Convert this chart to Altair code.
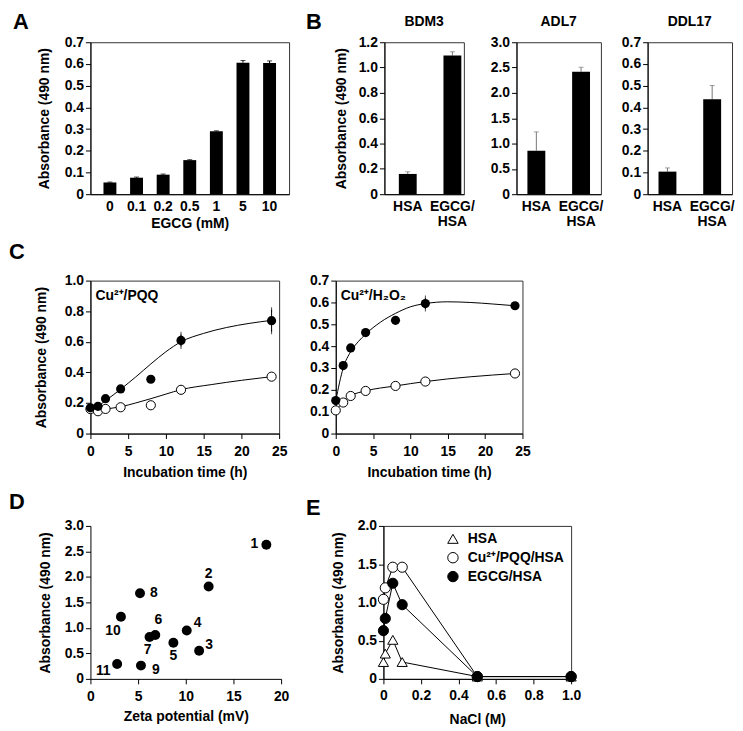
import altair as alt
import pandas as pd

FONT = "Liberation Sans"
YTITLE = "Absorbance (490 nm)"

# ---------------- Panel A ----------------
egcg_mm = ["0", "0.1", "0.2", "0.5", "1", "5", "10"]
egcg_abs = [0.054, 0.076, 0.090, 0.157, 0.290, 0.606, 0.604]
egcg_err = [0.002, 0.003, 0.003, 0.002, 0.002, 0.010, 0.010]
a_yticks = [0, 0.1, 0.2, 0.3, 0.4, 0.5, 0.6, 0.7]

# ---------------- Panel B ----------------
b_groups = ["HSA", "EGCG/HSA"]
bdm3_abs = [0.160, 1.095]
bdm3_err = [0.017, 0.030]
adl7_abs = [0.86, 2.42]
adl7_err = [0.37, 0.085]
ddl17_abs = [0.104, 0.437]
ddl17_err = [0.017, 0.064]
bdm3_yticks = [0, 0.2, 0.4, 0.6, 0.8, 1.0, 1.2]
adl7_yticks = [0, 0.5, 1.0, 1.5, 2.0, 2.5, 3.0]
ddl17_yticks = [0, 0.1, 0.2, 0.3, 0.4, 0.5, 0.6, 0.7]

# ---------------- Panel C ----------------
time_h = [0, 1, 2, 4, 8, 12, 24]
pqq_egcg = [0.168, 0.178, 0.228, 0.292, 0.355, 0.609, 0.738]
pqq_egcg_err = [0, 0, 0, 0, 0, 0.040, 0.072]
pqq_hsa = [0.160, 0.146, 0.161, 0.172, 0.185, 0.286, 0.372]
pqq_egcg_fit_t = [0, 1, 2, 4, 6, 8, 10, 12, 15, 18, 21, 24]
pqq_egcg_fit = [0.165, 0.180, 0.215, 0.290, 0.370, 0.455, 0.535, 0.600, 0.655, 0.693, 0.720, 0.740]
pqq_hsa_fit_t = [0, 1, 2, 4, 6, 8, 10, 12, 16, 20, 24]
pqq_hsa_fit = [0.160, 0.150, 0.160, 0.175, 0.200, 0.228, 0.258, 0.287, 0.320, 0.348, 0.372]

h2o2_egcg = [0.151, 0.311, 0.392, 0.462, 0.518, 0.595, 0.585]
h2o2_egcg_err = [0, 0, 0, 0, 0, 0.025, 0]
h2o2_hsa = [0.106, 0.142, 0.172, 0.195, 0.218, 0.238, 0.275]
h2o2_egcg_fit_t = [0, 1, 2, 3, 4, 6, 8, 10, 12, 15, 18, 21, 24]
h2o2_egcg_fit = [0.150, 0.300, 0.375, 0.420, 0.455, 0.510, 0.550, 0.580, 0.595, 0.603, 0.600, 0.593, 0.585]

c_xticks = [0, 5, 10, 15, 20, 25]
pqq_yticks = [0, 0.2, 0.4, 0.6, 0.8, 1.0]
h2o2_yticks = [0, 0.1, 0.2, 0.3, 0.4, 0.5, 0.6, 0.7]

# ---------------- Panel D ----------------
d_labels = ["1", "2", "3", "4", "5", "6", "7", "8", "9", "10", "11"]
zeta_mv = [18.45, 12.4, 11.4, 10.1, 8.7, 6.8, 6.2, 5.2, 5.3, 3.2, 2.8]
zeta_abs = [2.63, 1.81, 0.55, 0.95, 0.71, 0.86, 0.82, 1.68, 0.26, 1.22, 0.29]
d_xticks = [0, 5, 10, 15, 20]
d_yticks = [0, 0.5, 1.0, 1.5, 2.0, 2.5, 3.0]

# ---------------- Panel E ----------------
e_series = ["HSA", "Cu\u00b2\u207a/PQQ/HSA", "EGCG/HSA"]
e_hsa_nacl = [0, 0.01, 0.05, 0.1, 0.5, 1.0]
e_hsa_abs = [0.22, 0.33, 0.51, 0.22, 0.03, 0.03]
e_cu_nacl = [0, 0.01, 0.05, 0.1, 0.5, 1.0]
e_cu_abs = [1.04, 1.19, 1.46, 1.46, 0.03, 0.03]
e_egcg_nacl = [0, 0.01, 0.05, 0.1, 0.5, 1.0]
e_egcg_abs = [0.63, 0.79, 1.25, 0.97, 0.03, 0.03]
e_xticks = [0, 0.2, 0.4, 0.6, 0.8, 1.0]
e_yticks = [0, 0.5, 1.0, 1.5, 2.0]
e_shapes = ["triangle-up", "circle", "circle"]
e_fills = ["white", "white", "black"]

ZERO_EXPR = "datum.value == 0 ? '0' : format(datum.value, '.1f')"


def yaxis(values, title, title_padding=10):
    return alt.Axis(values=values, title=title, labelExpr=ZERO_EXPR, tickSize=5,
                    labelPadding=2, titlePadding=title_padding, labelFlush=False,
                    labelOverlap=False)


def letter(ch, dx, dy):
    return alt.Chart(pd.DataFrame({"t": [ch]})).mark_text(
        font=FONT, fontSize=22, fontWeight="bold", align="left", baseline="alphabetic", color="black"
    ).encode(text="t:N", x=alt.value(dx), y=alt.value(dy))


def spacer(w, h=1, mark=None):
    sp = alt.Chart(pd.DataFrame({"s": [0]})).mark_point(opacity=0).encode(
        x=alt.value(0), y=alt.value(0))
    if mark is not None:
        sp = alt.layer(sp, mark)
    return sp.properties(width=w, height=h, view=alt.ViewBackground(stroke="transparent"))


def bar_panel(cats, vals, errs, ymax, yticks, ytitle, xtitle, pi, po, align_, err_color,
              label_expr=None, title_padding=10):
    df = pd.DataFrame({"cat": cats, "abs": vals, "err": errs})
    base = alt.Chart(df)
    xax = dict(title=xtitle, labelAngle=0, ticks=False, tickSize=0, labelPadding=5,
               titlePadding=4, labelLineHeight=16, labelOverlap=False)
    if label_expr:
        xax["labelExpr"] = label_expr
    x = alt.X("cat:N", sort=cats, scale=alt.Scale(paddingInner=pi, paddingOuter=po, align=align_),
              axis=alt.Axis(**xax))
    yscale = alt.Scale(domain=[0, ymax], nice=False)
    yax = yaxis(yticks, ytitle, title_padding)
    bars = base.mark_bar(color="black").encode(
        x=x, y=alt.Y("abs:Q", scale=yscale, axis=yax, title=ytitle))
    top = base.transform_calculate(top="datum.abs + datum.err")
    rule = top.mark_rule(color=err_color, strokeWidth=1).encode(
        x=x, y=alt.Y("abs:Q", scale=yscale, axis=yax, title=ytitle), y2="top:Q")
    cap = top.mark_tick(color=err_color, thickness=1, size=5).encode(
        x=x, y=alt.Y("top:Q", scale=yscale, axis=yax, title=ytitle))
    return rule, cap, bars


# ---- A ----
ra, ca, ba = bar_panel(egcg_mm, egcg_abs, egcg_err, 0.7, a_yticks, YTITLE, "EGCG (mM)",
                       0.515, 0.49, 0.5, "black", title_padding=13)
panel_a = alt.layer(ra, ca, ba, letter("A", -78, -13)).properties(width=200, height=153)

# ---- B ----
B_EXPR = "datum.label == 'EGCG/HSA' ? ['EGCG/', 'HSA'] : datum.label"


def b_title(t):
    return alt.TitleParams(t, font=FONT, fontSize=14, fontWeight="bold", offset=6,
                           color="black", frame="group")


r1, c1, b1 = bar_panel(b_groups, bdm3_abs, bdm3_err, 1.2, bdm3_yticks, YTITLE, None,
                       0.6, 0.19, 0.85, "#777777", B_EXPR, 10)
panel_bdm3 = alt.layer(r1, c1, b1).properties(width=80, height=153, title=b_title("BDM3"))
r2, c2, b2 = bar_panel(b_groups, adl7_abs, adl7_err, 3.0, adl7_yticks, None, None,
                       0.6, 0.244, 0.5, "#777777", B_EXPR)
panel_adl7 = alt.layer(r2, c2, b2).properties(width=85, height=153, title=b_title("ADL7"))
r3, c3, b3 = bar_panel(b_groups, ddl17_abs, ddl17_err, 0.7, ddl17_yticks, None, None,
                       0.6, 0.244, 0.5, "#777777", B_EXPR)
panel_ddl17 = alt.layer(r3, c3, b3).properties(width=85, height=153, title=b_title("DDL17"))


# ---- C ----
def time_panel(egcg, egcg_err, hsa, fit_t, fit_v, hfit_t, hfit_v, ymax, yticks, ytitle,
               label, width, extra=None):
    xs = alt.Scale(domain=[0, 25], nice=False)
    ys = alt.Scale(domain=[0, ymax], nice=False)
    xax = alt.Axis(values=c_xticks, title="Incubation time (h)", tickSize=5, labelPadding=6,
                   titlePadding=7, labelFlush=False, labelOverlap=False)
    yax = yaxis(yticks, ytitle, 16)
    X = lambda f: alt.X(f, scale=xs, axis=xax, title="Incubation time (h)")
    Y = lambda f: alt.Y(f, scale=ys, axis=yax, title=ytitle)
    pts = pd.DataFrame({"t": time_h, "egcg": egcg, "err": egcg_err, "hsa": hsa})
    fit = pd.DataFrame({"t": fit_t, "v": fit_v})
    hfit = pd.DataFrame({"t": hfit_t, "v": hfit_v})
    l1 = alt.Chart(fit).mark_line(color="black", strokeWidth=1, interpolate="monotone").encode(
        x=X("t:Q"), y=Y("v:Q"))
    l2 = alt.Chart(hfit).mark_line(color="black", strokeWidth=1, interpolate="monotone").encode(
        x=X("t:Q"), y=Y("v:Q"))
    eb = alt.Chart(pts).transform_filter("datum.err > 0").transform_calculate(
        lo="datum.egcg - datum.err", hi="datum.egcg + datum.err")
    er = eb.mark_rule(color="black", strokeWidth=1).encode(x=X("t:Q"), y=Y("lo:Q"), y2="hi:Q")
    ec1 = eb.mark_tick(color="black", thickness=1, size=5).encode(x=X("t:Q"), y=Y("lo:Q"))
    ec2 = eb.mark_tick(color="black", thickness=1, size=5).encode(x=X("t:Q"), y=Y("hi:Q"))
    op = alt.Chart(pts).mark_circle(size=85, fill="white", stroke="black", strokeWidth=1,
                                    opacity=1).encode(x=X("t:Q"), y=Y("hsa:Q"))
    fp = alt.Chart(pts).mark_circle(size=85, color="black", opacity=1).encode(
        x=X("t:Q"), y=Y("egcg:Q"))
    lab = alt.Chart(pd.DataFrame({"t": [label]})).mark_text(
        font=FONT, fontSize=14, fontWeight="bold", align="left", baseline="middle", color="black"
    ).encode(text="t:N", x=alt.value(5), y=alt.value(16))
    layers = [l1, l2, er, ec1, ec2, op, fp, lab]
    if extra is not None:
        layers.append(extra)
    return alt.layer(*layers).properties(width=width, height=154)


panel_c1 = time_panel(pqq_egcg, pqq_egcg_err, pqq_hsa, pqq_egcg_fit_t, pqq_egcg_fit,
                      pqq_hsa_fit_t, pqq_hsa_fit, 1.0, pqq_yticks, YTITLE,
                      "Cu\u00b2\u207a/PQQ", 190, letter("C", -82, -22))
panel_c2 = time_panel(h2o2_egcg, h2o2_egcg_err, h2o2_hsa, h2o2_egcg_fit_t, h2o2_egcg_fit,
                      time_h, h2o2_hsa, 0.7, h2o2_yticks, None,
                      "Cu\u00b2\u207a/H\u2082O\u2082", 188)

# ---- D ----
d_df = pd.DataFrame({"label": d_labels, "zeta": zeta_mv, "abs": zeta_abs})
dxs = alt.Scale(domain=[0, 20], nice=False)
dys = alt.Scale(domain=[0, 3.0], nice=False)
DX = alt.X("zeta:Q", scale=dxs, title="Zeta potential (mV)",
           axis=alt.Axis(values=d_xticks, title="Zeta potential (mV)", tickSize=5,
                         labelPadding=6, titlePadding=6, labelFlush=False, labelOverlap=False))
DY = alt.Y("abs:Q", scale=dys, title=YTITLE, axis=yaxis(d_yticks, YTITLE, 12))
d_pts = alt.Chart(d_df).mark_circle(size=100, color="black", opacity=1).encode(x=DX, y=DY)
label_offsets = {"1": (-12, -1), "2": (0, -13), "3": (10, -6), "4": (11, -7), "5": (0, 13),
                 "6": (3, -15), "7": (-2, 13), "8": (14, 0), "9": (15, 4), "10": (-8, 14),
                 "11": (-14, 7)}
d_layers = [d_pts]
for lab, (ox, oy) in label_offsets.items():
    d_layers.append(
        alt.Chart(d_df).transform_filter(alt.datum.label == lab).mark_text(
            font=FONT, fontSize=14, fontWeight="bold", dx=ox, dy=oy, color="black",
            baseline="middle", align="center").encode(x=DX, y=DY, text="label:N"))
d_layers.append(letter("D", -82, -17))
panel_d = alt.layer(*d_layers).properties(width=192, height=154,
                                          view=alt.ViewBackground(stroke="transparent"))

# ---- E ----
e_df = pd.concat([
    pd.DataFrame({"series": e_series[0], "nacl": e_hsa_nacl, "abs": e_hsa_abs}),
    pd.DataFrame({"series": e_series[1], "nacl": e_cu_nacl, "abs": e_cu_abs}),
    pd.DataFrame({"series": e_series[2], "nacl": e_egcg_nacl, "abs": e_egcg_abs}),
], ignore_index=True)
exs = alt.Scale(domain=[0, 1.0], nice=False)
eys = alt.Scale(domain=[0, 2.0], nice=False)
EX = alt.X("nacl:Q", scale=exs, title="NaCl (M)",
           axis=alt.Axis(values=e_xticks, title="NaCl (M)", labelExpr=ZERO_EXPR, tickSize=5,
                         labelPadding=5, titlePadding=10, labelFlush=False, labelOverlap=False))
EY = alt.Y("abs:Q", scale=eys, title=YTITLE, axis=yaxis(e_yticks, YTITLE, 12))
shape_scale = alt.Scale(domain=e_series, range=e_shapes)
fill_scale = alt.Scale(domain=e_series, range=e_fills)
e_lines = alt.Chart(e_df).mark_line(color="black", strokeWidth=1).encode(
    x=EX, y=EY, detail="series:N", order="nacl:Q")
e_pts = alt.Chart(e_df).mark_point(size=105, stroke="black", strokeWidth=1, opacity=1,
                                   filled=False).encode(
    x=EX, y=EY,
    shape=alt.Shape("series:N", scale=shape_scale, legend=None),
    fill=alt.Fill("series:N", scale=fill_scale, legend=None),
)
# key (legend) drawn inside the plot, top right
e_layers = [e_lines, e_pts]
for i, name in enumerate(e_series):
    key = alt.Chart(pd.DataFrame({"series": [name]}))
    e_layers.append(key.mark_point(size=110, stroke="black", strokeWidth=1, opacity=1,
                                   shape=e_shapes[i], fill=e_fills[i]).encode(
        x=alt.value(70), y=alt.value(13 + 19 * i)))
    e_layers.append(key.mark_text(font=FONT, fontSize=14, fontWeight="bold", align="left",
                                  baseline="middle", color="black").encode(
        text="series:N", x=alt.value(85), y=alt.value(13 + 19 * i)))
panel_e = alt.layer(*e_layers).properties(width=189, height=154)

# ---- layout ----
FLUSH = dict(spacing=0, bounds="flush")
row1 = alt.hconcat(panel_a, spacer(96, 1, letter("B", 17, -13)), panel_bdm3, spacer(53),
                   panel_adl7, spacer(47), panel_ddl17, **FLUSH)
row2 = alt.hconcat(panel_c1, spacer(57), panel_c2, **FLUSH)
row3 = alt.hconcat(panel_d, spacer(103, 1, letter("E", 25, -11)), panel_e, **FLUSH)

top_rows = alt.vconcat(row1, row2, spacing=8)
chart = alt.vconcat(top_rows, row3, spacing=10).properties(
    padding=0,
).configure(background="white").configure_view(
    stroke="#333333", strokeWidth=1
).configure_axis(
    labelFont=FONT, labelFontSize=14, labelFontWeight="bold", labelColor="black",
    titleFont=FONT, titleFontSize=14, titleFontWeight="bold", titleColor="black",
    domainColor="black", tickColor="black", grid=False, labelOverlap=False,
)

chart.save("out.html", embed_options={"renderer": "svg", "actions": False})
